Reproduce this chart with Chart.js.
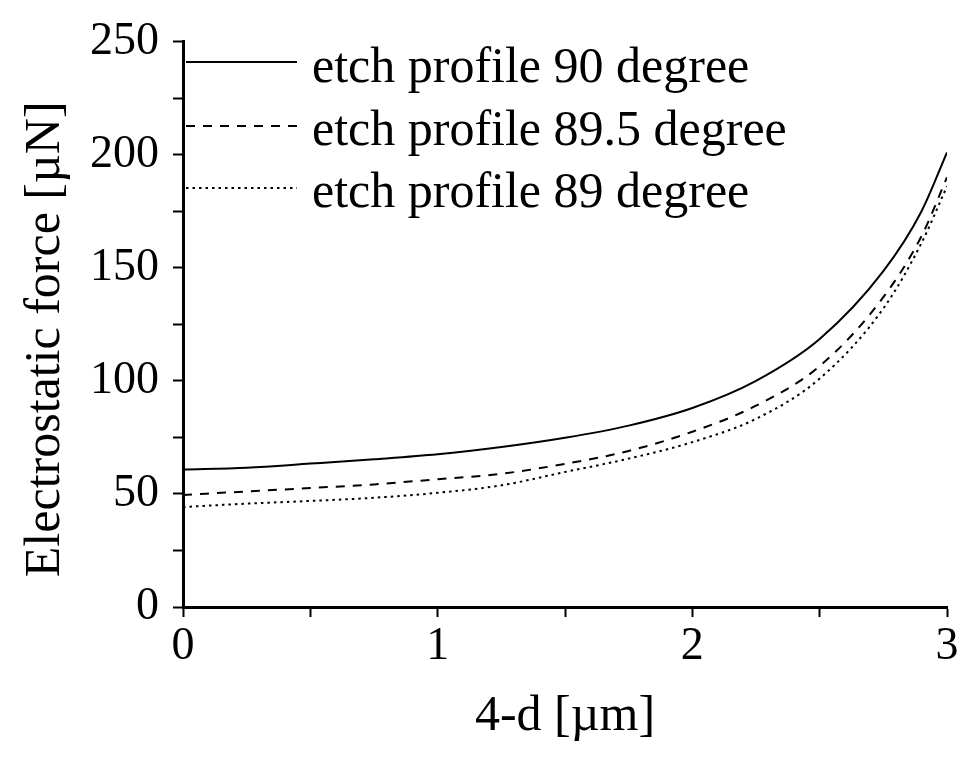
<!DOCTYPE html>
<html>
<head>
<meta charset="utf-8">
<script src="https://cdn.jsdelivr.net/npm/chart.js@4/dist/chart.umd.min.js"></script>
<style>
  html, body { margin: 0; padding: 0; background: #ffffff; }
  #wrap { width: 962px; height: 762px; }
</style>
</head>
<body>
<div id="wrap"><canvas id="c" width="962" height="762"></canvas></div>
<script>
// ---- data ----
const xValues = [0, 0.25, 0.5, 0.75, 1.0, 1.25, 1.5, 1.75, 2.0, 2.25, 2.5, 2.75, 2.9, 3.0];
const force90 = [60.8, 61.6, 63.4, 65.3, 67.5, 70.7, 74.8, 80.2, 88.0, 100.0, 118.5, 148.5, 175, 201];
const force895 = [49.5, 51.1, 52.6, 54.2, 56.5, 58.9, 63.3, 69.0, 77.5, 89.0, 106.5, 137, 164, 190];
const force89 = [44.2, 45.7, 46.9, 48.3, 50.5, 53.8, 59.7, 65.6, 72.9, 83.2, 101.0, 132, 161, 186];
const seriesNames = ['etch profile 90 degree', 'etch profile 89.5 degree', 'etch profile 89 degree'];
const yTickLabels = [0, 50, 100, 150, 200, 250];
const xTickLabels = [0, 1, 2, 3];
const xTitle = '4-d [\u00b5m]';
const yTitle = 'Electrostatic force [\u00b5N]';

const FONT = "'Liberation Serif', 'Times New Roman', serif";

function toPoints(vals) { return xValues.map((x, i) => ({ x: x, y: vals[i] })); }

const dashes = [[], [9, 8], [2.5, 4]];
const seriesVals = [force90, force895, force89];

const datasets = seriesVals.map((v, i) => ({
  label: seriesNames[i],
  data: toPoints(v),
  borderColor: '#000000',
  borderWidth: 2,
  borderDash: dashes[i],
  pointRadius: 0,
  fill: false,
  cubicInterpolationMode: 'monotone'
}));

const insideLegend = {
  id: 'insideLegend',
  afterDraw(chart) {
    const ctx = chart.ctx;
    const area = chart.chartArea;
    const lineY = [62, 126, 188];
    const baseY = [82, 145, 207];
    ctx.save();
    chart.data.datasets.forEach((ds, i) => {
      ctx.beginPath();
      ctx.setLineDash(ds.borderDash || []);
      ctx.lineWidth = ds.borderWidth;
      ctx.strokeStyle = ds.borderColor;
      ctx.moveTo(area.left + 3, lineY[i]);
      ctx.lineTo(area.left + 114, lineY[i]);
      ctx.stroke();
      ctx.setLineDash([]);
      ctx.fillStyle = '#000000';
      ctx.font = "50px " + FONT;
      ctx.textBaseline = 'alphabetic';
      ctx.textAlign = 'left';
      ctx.fillText(ds.label, area.left + 129, baseY[i]);
    });
    // y axis title, centred a little below the plot centre as in the reference
    ctx.translate(46, (area.top + area.bottom) / 2 + 15);
    ctx.rotate(-Math.PI / 2);
    ctx.font = "50px " + FONT;
    ctx.textAlign = 'center';
    ctx.textBaseline = 'middle';
    ctx.fillText(yTitle, 0, 0);
    ctx.restore();
  }
};

new Chart(document.getElementById('c'), {
  type: 'line',
  data: { datasets: datasets },
  options: {
    responsive: false,
    animation: false,
    devicePixelRatio: 1,
    layout: { padding: { top: 40, right: 15, left: 0, bottom: 0 } },
    plugins: { legend: { display: false }, tooltip: { enabled: false } },
    scales: {
      x: {
        type: 'linear',
        min: 0, max: 3,
        afterFit(scale) { scale.height = 155; },
        afterBuildTicks(scale) {
          const t = [];
          for (let v = 0; v <= 3.0001; v += 0.5) t.push({ value: Math.round(v * 10) / 10 });
          scale.ticks = t;
        },
        ticks: {
          autoSkip: false,
          maxRotation: 0,
          padding: 2,
          color: '#000000',
          font: { family: FONT, size: 46 },
          callback(v) { return xTickLabels.includes(v) ? String(v) : ''; }
        },
        grid: { drawOnChartArea: false, drawTicks: true, tickLength: 10, tickColor: '#000000', tickWidth: 2 },
        border: { display: true, color: '#000000', width: 3 },
        title: { display: true, text: xTitle, color: '#000000', font: { family: FONT, size: 50 }, padding: { top: 0, bottom: 15 } }
      },
      y: {
        type: 'linear',
        min: 0, max: 250,
        afterFit(scale) { scale.width = 183; },
        afterBuildTicks(scale) {
          const t = [];
          for (let v = 0; v <= 250; v += 25) t.push({ value: v });
          scale.ticks = t;
        },
        ticks: {
          autoSkip: false,
          padding: 14,
          color: '#000000',
          font: { family: FONT, size: 46 },
          callback(v) { return yTickLabels.includes(v) ? String(v) : ''; }
        },
        grid: { drawOnChartArea: false, drawTicks: true, tickLength: 10, tickColor: '#000000', tickWidth: 2 },
        border: { display: true, color: '#000000', width: 3 },
        title: { display: false, text: yTitle }
      }
    }
  },
  plugins: [insideLegend]
});
</script>
</body>
</html>
